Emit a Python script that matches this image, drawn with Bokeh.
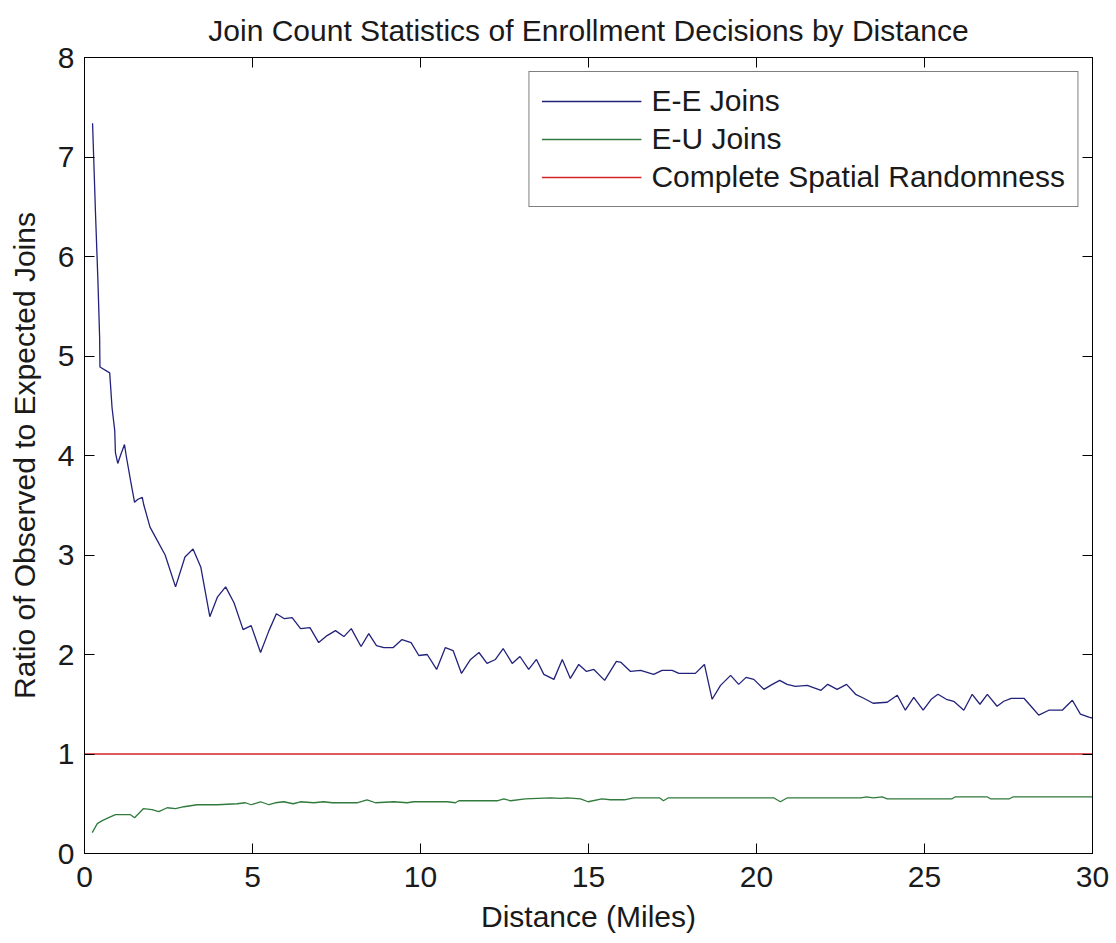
from bokeh.plotting import figure
from bokeh.models import (LinearAxis, FixedTicker, Legend, LegendItem, Range1d, Title)
from bokeh.embed import file_html
from bokeh.resources import INLINE

# ---------------- data ----------------
ee_x = [0.24, 0.33, 0.40, 0.45, 0.46, 0.75, 0.82, 0.90, 0.92, 0.99, 1.07, 1.19, 1.25, 1.37,
        1.49, 1.59, 1.72, 1.76, 1.95, 2.16, 2.40, 2.71, 2.99, 3.23, 3.46, 3.73, 3.96, 4.20,
        4.45, 4.72, 4.96, 5.24, 5.49, 5.71, 5.95, 6.18, 6.43, 6.71, 6.97, 7.22, 7.47, 7.72,
        7.94, 8.23, 8.46, 8.69, 8.91, 9.19, 9.45, 9.72, 9.95, 10.20, 10.48, 10.74, 10.97,
        11.22, 11.49, 11.74, 11.98, 12.23, 12.46, 12.73, 12.96, 13.22, 13.45, 13.67, 13.97,
        14.22, 14.46, 14.71, 14.94, 15.16, 15.48, 15.83, 15.97, 16.25, 16.55, 16.94, 17.19,
        17.49, 17.69, 18.18, 18.45, 18.68, 18.93, 19.23, 19.47, 19.69, 19.92, 20.22, 20.47,
        20.69, 20.91, 21.16, 21.51, 21.92, 22.12, 22.40, 22.68, 22.95, 23.19, 23.47, 23.89,
        24.19, 24.43, 24.68, 24.96, 25.20, 25.40, 25.65, 25.87, 26.17, 26.42, 26.65, 26.87,
        27.16, 27.36, 27.58, 27.96, 28.17, 28.40, 28.70, 29.10, 29.40, 29.64, 29.89, 30.00]
ee_y = [7.34, 6.41, 5.75, 5.19, 4.89, 4.83, 4.48, 4.25, 4.03, 3.92, 4.00, 4.11, 3.98, 3.75,
        3.53, 3.56, 3.58, 3.51, 3.28, 3.15, 3.00, 2.68, 2.98, 3.06, 2.88, 2.38, 2.58, 2.68,
        2.52, 2.25, 2.29, 2.02, 2.24, 2.41, 2.36, 2.37, 2.26, 2.27, 2.12, 2.19, 2.24, 2.18,
        2.26, 2.08, 2.21, 2.09, 2.07, 2.07, 2.15, 2.12, 1.99, 2.00, 1.85, 2.07, 2.04,
        1.81, 1.95, 2.02, 1.91, 1.95, 2.06, 1.91, 1.98, 1.85, 1.95, 1.80, 1.75,
        1.95, 1.76, 1.90, 1.83, 1.85, 1.74, 1.93, 1.92, 1.83, 1.84, 1.80, 1.84,
        1.84, 1.81, 1.81, 1.90, 1.55, 1.69, 1.79, 1.70, 1.77, 1.75, 1.65, 1.70,
        1.74, 1.70, 1.68, 1.69, 1.64, 1.70, 1.65, 1.70, 1.60, 1.56, 1.51, 1.52,
        1.59, 1.44, 1.57, 1.44, 1.55, 1.60, 1.55, 1.53, 1.44, 1.60, 1.50, 1.60,
        1.48, 1.53, 1.56, 1.56, 1.48, 1.39, 1.44, 1.44, 1.54, 1.40, 1.37, 1.36]

eu_x = [0.23, 0.38, 0.53, 0.72, 0.92, 1.17, 1.37, 1.49, 1.75, 2.01, 2.21, 2.46, 2.71, 2.96,
        3.35, 3.95, 4.54, 4.79, 4.96, 5.24, 5.49, 5.68, 5.93, 6.21, 6.43, 6.82, 7.12, 7.37,
        8.11, 8.41, 8.66, 9.21, 9.60, 9.80, 10.79, 11.04, 11.14, 12.28, 12.48, 12.68, 13.12,
        13.87, 14.17, 14.37, 14.76, 14.99, 15.40, 15.65, 16.07, 16.34, 17.11, 17.23, 17.38,
        20.51, 20.71, 20.92, 23.11, 23.27, 23.48, 23.74, 23.89, 25.82, 25.92, 26.86, 26.96,
        27.53, 27.64, 30.00]
eu_y = [0.21, 0.30, 0.33, 0.36, 0.39, 0.39, 0.39, 0.36, 0.45, 0.44, 0.42, 0.46, 0.45, 0.47,
        0.49, 0.49, 0.50, 0.51, 0.49, 0.52, 0.49, 0.51, 0.52, 0.50, 0.52, 0.51, 0.52, 0.51,
        0.51, 0.54, 0.51, 0.52, 0.51, 0.52, 0.52, 0.51, 0.53, 0.53, 0.55, 0.53, 0.55,
        0.56, 0.555, 0.56, 0.55, 0.52, 0.55, 0.54, 0.54, 0.56, 0.56, 0.53, 0.56,
        0.56, 0.52, 0.56, 0.56, 0.57, 0.56, 0.57, 0.55, 0.55, 0.57, 0.57, 0.55,
        0.55, 0.57, 0.57]

csr_x = [0.0, 30.0]
csr_y = [1.0, 1.0]

x_ticks = [0, 5, 10, 15, 20, 25, 30]
y_ticks = [0, 1, 2, 3, 4, 5, 6, 7, 8]

title_text = "Join Count Statistics of Enrollment Decisions by Distance"
x_label = "Distance (Miles)"
y_label = "Ratio of Observed to Expected Joins"
series_names = ["E-E Joins", "E-U Joins", "Complete Spatial Randomness"]
series_colors = ["#22227a", "#2f7a3c", "#d42424"]

# ---------------- figure ----------------
FONT = "Liberation Sans"
FS = "30px"

p = figure(width=1116, height=943, output_backend="svg", toolbar_location=None,
           x_range=Range1d(0, 30), y_range=Range1d(0, 8),
           min_border_left=84, min_border_right=24, min_border_top=57, min_border_bottom=90,
           x_axis_label=x_label, y_axis_label=y_label)

p.title = Title(text=title_text, align="center", text_font=FONT, text_font_size=FS,
                text_font_style="normal", text_color="#1a1a1a", standoff=22,
                text_line_height=0.75)

p.xgrid.visible = False
p.ygrid.visible = False
p.background_fill_color = "white"
p.border_fill_color = "white"
p.outline_line_color = "black"
p.outline_line_width = 1

def style_axis(ax, ticks, show_labels=True):
    ax.ticker = FixedTicker(ticks=ticks)
    ax.major_tick_in = 10
    ax.major_tick_out = 0
    ax.minor_tick_line_color = None
    ax.axis_line_color = "black"
    ax.major_tick_line_color = "black"
    ax.major_label_text_font = FONT
    ax.major_label_text_font_size = FS
    ax.major_label_text_color = "#1a1a1a"
    ax.axis_label_text_font = FONT
    ax.axis_label_text_font_size = FS
    ax.axis_label_text_font_style = "normal"
    ax.axis_label_text_color = "#1a1a1a"
    if not show_labels:
        ax.major_label_text_color = None
        ax.major_label_text_font_size = "0px"
        ax.major_label_standoff = 0

style_axis(p.xaxis[0], x_ticks)
style_axis(p.yaxis[0], y_ticks)
p.xaxis[0].major_label_standoff = 13
p.yaxis[0].major_label_standoff = 10
p.xaxis[0].axis_label_standoff = 10
p.yaxis[0].axis_label_standoff = 14

top_ax = LinearAxis()
style_axis(top_ax, x_ticks, show_labels=False)
right_ax = LinearAxis()
style_axis(right_ax, y_ticks, show_labels=False)
p.add_layout(top_ax, "above")
p.add_layout(right_ax, "right")

r_ee = p.line(ee_x, ee_y, line_color=series_colors[0], line_width=1.3)
r_eu = p.line(eu_x, eu_y, line_color=series_colors[1], line_width=1.3)
r_csr = p.line(csr_x, csr_y, line_color=series_colors[2], line_width=1.3)

legend = Legend(items=[LegendItem(label=series_names[0], renderers=[r_ee]),
                       LegendItem(label=series_names[1], renderers=[r_eu]),
                       LegendItem(label=series_names[2], renderers=[r_csr])],
                location="top_right", margin=14, padding=12, spacing=4,
                glyph_width=100, glyph_height=34, label_height=34, label_standoff=10,
                label_text_font=FONT, label_text_font_size=FS, label_text_color="#1a1a1a",
                border_line_color="black", border_line_width=1,
                background_fill_color="white", background_fill_alpha=1.0)
p.add_layout(legend, "center")

open("out.html", "w").write(file_html(p, INLINE))
